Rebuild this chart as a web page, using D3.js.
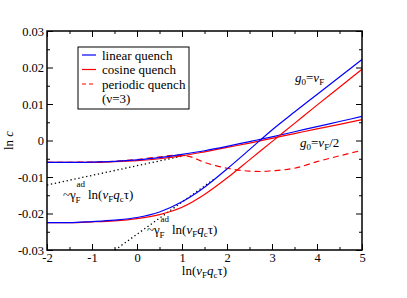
<!DOCTYPE html>
<html>
<head>
<meta charset="utf-8">
<script src="https://cdn.jsdelivr.net/npm/d3@7"></script>
<style>
  body { margin: 0; background: #fff; }
  svg text { font-family: "Liberation Serif", "Times New Roman", serif; }
</style>
</head>
<body>
<div id="chart"></div>
<script>
// values
var xGrid = [-2, -1.5, -1, -0.5, 0, 0.5, 1, 1.5, 2, 2.5, 3, 3.5, 4, 4.5, 5];
var linearFull = [-0.0225, -0.0225, -0.0222, -0.0218, -0.0211, -0.0196, -0.0168, -0.0128, -0.0078, -0.0025, 0.0029, 0.0078, 0.0126, 0.0174, 0.0222];
var cosineFull = [-0.0225, -0.0225, -0.0223, -0.0220, -0.0214, -0.0203, -0.0183, -0.0148, -0.0103, -0.0053, -0.0003, 0.0047, 0.0097, 0.0146, 0.0195];
var linearHalf = [-0.0060, -0.0060, -0.0059, -0.0057, -0.0053, -0.0047, -0.0038, -0.0028, -0.0016, -0.0003, 0.0010, 0.0024, 0.0038, 0.0052, 0.0066];
var cosineHalf = [-0.0060, -0.0060, -0.0060, -0.0058, -0.0055, -0.0050, -0.0042, -0.0031, -0.0019, -0.0007, 0.0006, 0.0019, 0.0032, 0.0044, 0.0057];
var periodicX = [-2, -1, -0.5, 0, 0.5, 0.8, 1, 1.2, 1.4, 1.5, 1.75, 2, 2.5, 2.75, 3, 3.5, 4, 4.5, 5];
var periodicY = [-0.0060, -0.0059, -0.0057, -0.0052, -0.0045, -0.0041, -0.0041, -0.0045, -0.0055, -0.0060, -0.0069, -0.0076, -0.0084, -0.0085, -0.0083, -0.0076, -0.0058, -0.0042, -0.0027];
var asymHalfX = [-2, 1.1];
var asymHalfY = [-0.0122, -0.0040];
var asymFullX = [-0.49, 1.7];
var asymFullY = [-0.0300, -0.0107];

var xTicks = [-2, -1, 0, 1, 2, 3, 4, 5];
var yTicks = [-0.03, -0.02, -0.01, 0, 0.01, 0.02, 0.03];
var legendLabels = ["linear quench", "cosine quench", "periodic quench"];

var width = 407, height = 298;
var margin = {top: 31, right: 45, bottom: 48, left: 47};
var serif = "Liberation Serif";

var svg = d3.select("#chart")
  .append("svg")
    .attr("width", width)
    .attr("height", height)
    .style("font-family", serif);

var x = d3.scaleLinear().domain([-2, 5]).range([margin.left, width - margin.right]);
var y = d3.scaleLinear().domain([-0.03, 0.03]).range([height - margin.bottom, margin.top]);

var x0 = x.range()[0], x1 = x.range()[1];
var y0 = y.range()[0], y1 = y.range()[1];

var xMinor = d3.range(-1.5, 5, 1);
var yMinor = d3.range(-0.025, 0.03, 0.01);

function fmtY(d) {
  if (Math.abs(d) < 1e-9) return "0";
  return d3.format(".2f")(d).replace("\u2212", "-");
}
function fmtX(d) { return String(d); }

function styleAxis(g) {
  g.attr("font-family", null);
  g.select(".domain").remove();
  g.selectAll(".tick line").attr("stroke", "#000").attr("stroke-width", 1);
  g.selectAll(".tick text")
    .attr("fill", "#000")
    .style("font-family", serif)
    .style("font-size", "12.5px");
}

// bottom
svg.append("g").attr("transform", "translate(0," + y0 + ")")
  .call(d3.axisBottom(x).tickValues(xTicks).tickFormat(fmtX).tickSize(-6).tickPadding(3))
  .call(styleAxis);
svg.append("g").attr("transform", "translate(0," + y0 + ")")
  .call(d3.axisBottom(x).tickValues(xMinor).tickFormat("").tickSize(-3))
  .call(styleAxis);
// top
svg.append("g").attr("transform", "translate(0," + y1 + ")")
  .call(d3.axisTop(x).tickValues(xTicks).tickFormat("").tickSize(-6))
  .call(styleAxis);
svg.append("g").attr("transform", "translate(0," + y1 + ")")
  .call(d3.axisTop(x).tickValues(xMinor).tickFormat("").tickSize(-3))
  .call(styleAxis);
// left
svg.append("g").attr("transform", "translate(" + x0 + ",0)")
  .call(d3.axisLeft(y).tickValues(yTicks).tickFormat(fmtY).tickSize(-6).tickPadding(3))
  .call(styleAxis);
svg.append("g").attr("transform", "translate(" + x0 + ",0)")
  .call(d3.axisLeft(y).tickValues(yMinor).tickFormat("").tickSize(-3))
  .call(styleAxis);
// right
svg.append("g").attr("transform", "translate(" + x1 + ",0)")
  .call(d3.axisRight(y).tickValues(yTicks).tickFormat("").tickSize(-6))
  .call(styleAxis);
svg.append("g").attr("transform", "translate(" + x1 + ",0)")
  .call(d3.axisRight(y).tickValues(yMinor).tickFormat("").tickSize(-3))
  .call(styleAxis);

// curves
var line = d3.line()
  .x(function(d) { return x(d[0]); })
  .y(function(d) { return y(d[1]); })
  .curve(d3.curveMonotoneX);

function pairs(xs, ys) { return xs.map(function(v, i) { return [v, ys[i]]; }); }

var plot = svg.append("g");

plot.append("path").datum(pairs(asymHalfX, asymHalfY))
  .attr("d", line).attr("fill", "none").attr("stroke", "#000")
  .attr("stroke-width", 1.3).attr("stroke-dasharray", "1.3,2.7");
plot.append("path").datum(pairs(asymFullX, asymFullY))
  .attr("d", line).attr("fill", "none").attr("stroke", "#000")
  .attr("stroke-width", 1.3).attr("stroke-dasharray", "1.3,2.7");

plot.append("path").datum(pairs(periodicX, periodicY))
  .attr("d", line).attr("fill", "none").attr("stroke", "#ff0000")
  .attr("stroke-width", 1.2).attr("stroke-dasharray", "6,4");

[[cosineHalf, "#ff0000"], [linearHalf, "#0000ff"], [cosineFull, "#ff0000"], [linearFull, "#0000ff"]]
  .forEach(function(s) {
    plot.append("path").datum(pairs(xGrid, s[0]))
      .attr("d", line).attr("fill", "none").attr("stroke", s[1])
      .attr("stroke-width", 1.2);
  });

// frame
svg.append("rect")
  .attr("x", x0).attr("y", y1)
  .attr("width", x1 - x0).attr("height", y0 - y1)
  .attr("fill", "none").attr("stroke", "#000").attr("stroke-width", 1.5);

// legend
var legend = svg.append("g");
legend.append("rect")
  .attr("x", 78).attr("y", 47).attr("width", 111).attr("height", 62)
  .attr("fill", "#fff").attr("stroke", "#000").attr("stroke-width", 1);
var legColors = ["#0000ff", "#ff0000", "#ff0000"];
var legDash = [null, null, "4,3"];
legendLabels.forEach(function(lab, i) {
  var cy = 55 + i * 14.5;
  legend.append("line")
    .attr("x1", 82).attr("x2", 96).attr("y1", cy).attr("y2", cy)
    .attr("stroke", legColors[i]).attr("stroke-width", 1.2)
    .attr("stroke-dasharray", legDash[i]);
  legend.append("text")
    .attr("x", 102).attr("y", cy + 4.5)
    .style("font-size", "13px")
    .text(lab);
});
legend.append("text")
  .attr("x", 102).attr("y", 55 + 3 * 14.5 + 4.5)
  .style("font-size", "13px")
  .text("(\u03bd=3)");

// axis titles
var xt = svg.append("text")
  .attr("x", (x0 + x1) / 2).attr("y", 275)
  .attr("text-anchor", "middle")
  .style("font-size", "13px");
xt.append("tspan").text("ln(");
xt.append("tspan").style("font-style", "italic").text("v");
xt.append("tspan").attr("dy", 3).style("font-size", "9px").text("F");
xt.append("tspan").attr("dy", -3).style("font-style", "italic").text("q");
xt.append("tspan").attr("dy", 3).style("font-size", "9px").text("c");
xt.append("tspan").attr("dy", -3).text("\u03c4)");

var yt = svg.append("text")
  .attr("transform", "translate(13," + ((y0 + y1) / 2) + ") rotate(-90)")
  .attr("text-anchor", "middle")
  .style("font-size", "13px");
yt.append("tspan").text("ln ");
yt.append("tspan").style("font-style", "italic").text("c");

// curve annotations
function gLabel(px, py, half) {
  var t = svg.append("text").attr("x", px).attr("y", py).style("font-size", "13px");
  t.append("tspan").style("font-style", "italic").text("g");
  t.append("tspan").attr("dy", 3).style("font-size", "9px").text("0");
  t.append("tspan").attr("dy", -3).text("=");
  t.append("tspan").style("font-style", "italic").text("v");
  t.append("tspan").attr("dy", 3).style("font-size", "9px").text("F");
  if (half) t.append("tspan").attr("dy", -3).text("/2");
}
gLabel(295, 82, false);
gLabel(300, 147, true);

function gammaLabel(px, py) {
  svg.append("text").attr("x", px).attr("y", py)
    .style("font-size", "13px").text("~\u03b3");
  svg.append("text").attr("x", px + 12.5).attr("y", py + 4)
    .style("font-size", "9px").text("F");
  svg.append("text").attr("x", px + 13.5).attr("y", py - 12)
    .style("font-size", "9px").text("ad");
  var t = svg.append("text").attr("x", px + 25).attr("y", py).style("font-size", "13px");
  t.append("tspan").text("ln(");
  t.append("tspan").style("font-style", "italic").text("v");
  t.append("tspan").attr("dy", 3).style("font-size", "9px").text("F");
  t.append("tspan").attr("dy", -3).style("font-style", "italic").text("q");
  t.append("tspan").attr("dy", 3).style("font-size", "9px").text("c");
  t.append("tspan").attr("dy", -3).text("\u03c4)");
}
gammaLabel(63, 199);
gammaLabel(147, 234);
</script>
</body>
</html>
